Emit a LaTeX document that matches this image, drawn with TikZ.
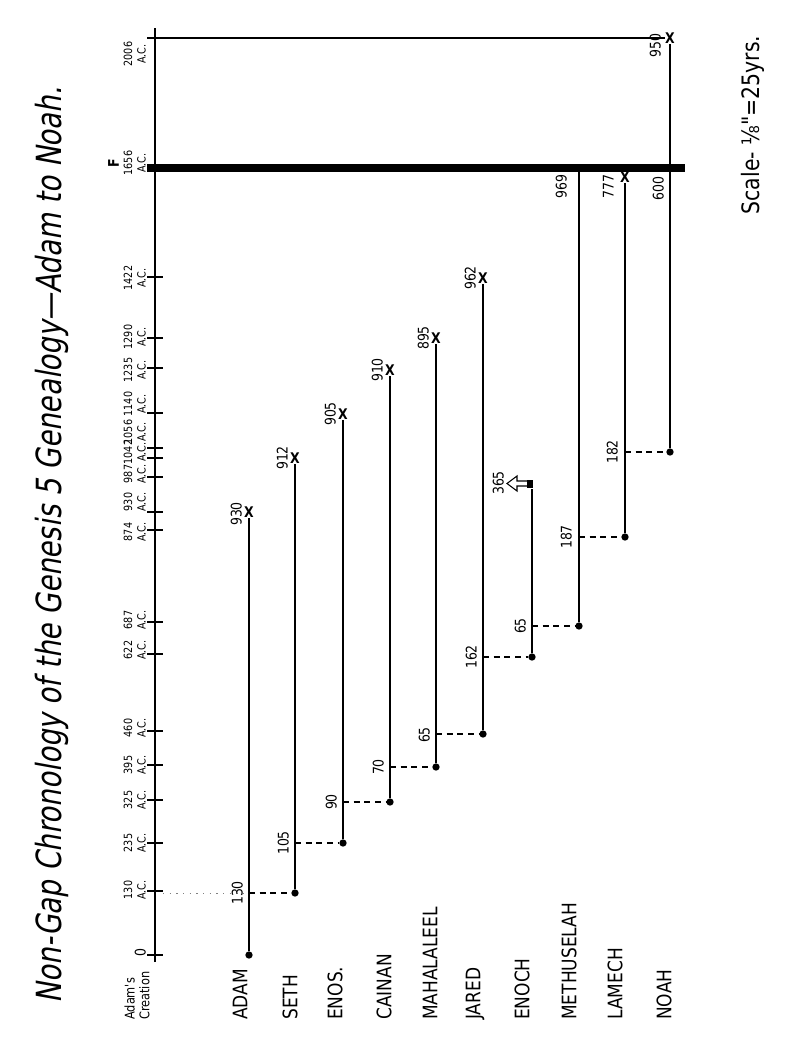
\documentclass[tikz,border=0pt]{standalone}
\usepackage{fontspec}
\newfontfamily\letterfont{DejaVu Sans}[FakeStretch=0.85]
\newfontfamily\titlefont{DejaVu Sans}[FakeStretch=0.8,FakeSlant=0.18]
\begin{document}
\begin{tikzpicture}[x=0.75pt,y=-0.75pt]
    \tikzstyle{every node}=[inner sep=0pt,font=\letterfont]
    \tikzstyle{axis}=[line width=1.9pt]
    \tikzstyle{tick}=[line width=1.4pt]
    \tikzstyle{life}=[line width=1.1pt]
    \tikzstyle{gen}=[line width=0.9pt,dash pattern=on 4.5pt off 3.5pt]
    \tikzstyle{faint}=[line width=0.6pt,gray,dash pattern=on 1pt off 4pt]
    \tikzstyle{flood}=[line width=6.5pt]
    \tikzstyle{birth}=[circle,fill,minimum size=5.5pt]
    \tikzstyle{death}=[font=\letterfont\bfseries\fontsize{11}{11}\selectfont]
    \tikzstyle{year}=[rotate=90,anchor=south,align=center,font=\letterfont\fontsize{8.5}{10}\selectfont]
    \tikzstyle{span}=[rotate=90,anchor=south,font=\letterfont\fontsize{11}{11}\selectfont]
    \tikzstyle{hang}=[rotate=90,anchor=south east,font=\letterfont\fontsize{11}{11}\selectfont]
    \tikzstyle{person}=[rotate=90,anchor=west,font=\letterfont\fontsize{15}{15}\selectfont]
    \useasboundingbox (0,0) rectangle (800,1050);
    % time axis, 0 to 2006 A.C.
    \draw[axis] (155,962) -- (155,28);
    \foreach \y in {955,891,843,800,765,731,654,622,530,512,477,458,448,413,368,338,277,38}
        \draw[tick] (147,\y) -- (163,\y);
    \foreach \t/\y in {130/890,235/843,325/800,395/765,460/728,622/650,687/620,874/532,
                       930/502,987/474,1042/452,1056/432,1140/404,1235/370,1290/337,1422/278,2006/54}
        \node[year] (y\t) at (146,\y) {\t\\A.C.};
    \node[year] (y0) at (146,953) {\fontsize{11}{11}\selectfont 0};
    \node[year] (f1656) at (146,163) {{\fontsize{11}{11}\selectfont\bfseries F}\\1656\\A.C.};
    \node[person,align=left,font=\letterfont\fontsize{10}{11}\selectfont] (creation) at (137,1020) {Adam's\\Creation};
    \coordinate (a130) at (163,893);
    \coordinate (a2006) at (155,38);
    \coordinate (floodL) at (147,168);
    \coordinate (floodR) at (685,168);
    % the patriarchs
    \node[birth] (adam) at (249,955) {};
    \node[birth] (seth) at (295,893) {};
    \node[birth] (enos) at (343,843) {};
    \node[birth] (cainan) at (390,802) {};
    \node[birth] (mahalaleel) at (436,767) {};
    \node[birth] (jared) at (483,734) {};
    \node[birth] (enoch) at (532,657) {};
    \node[birth] (methuselah) at (579,626) {};
    \node[birth] (lamech) at (625,537) {};
    \node[birth] (noah) at (670,452) {};
    \node[death] (adamX) at (249,512) {X};
    \node[death] (sethX) at (295,458) {X};
    \node[death] (enosX) at (343,414) {X};
    \node[death] (cainanX) at (390,370) {X};
    \node[death] (mahalaleelX) at (436,338) {X};
    \node[death] (jaredX) at (483,278) {X};
    \node[death] (lamechX) at (625,177) {X};
    \node[death] (noahX) at (670,38) {X};
    \coordinate (enochT) at (532,489);
    \draw[life] (adam) -- (adamX);
    \draw[life] (seth) -- (sethX);
    \draw[life] (enos) -- (enosX);
    \draw[life] (cainan) -- (cainanX);
    \draw[life] (mahalaleel) -- (mahalaleelX);
    \draw[life] (jared) -- (jaredX);
    \draw[life] (enoch) -- (enochT);
    \draw[life] (methuselah) -- (methuselah |- floodL);
    \draw[life] (lamech) -- (lamechX);
    \draw[life] (noah) -- (noahX);
    \draw[line width=0.8pt] (a2006) -- (noahX);
    % begetting, parent to son
    \draw[faint] (a130) -- (adam |- seth);
    \draw[gen] (adam |- seth) -- (seth);
    \draw[gen] (seth |- enos) -- (enos);
    \draw[gen] (enos |- cainan) -- (cainan);
    \draw[gen] (cainan |- mahalaleel) -- (mahalaleel);
    \draw[gen] (mahalaleel |- jared) -- (jared);
    \draw[gen] (jared |- enoch) -- (enoch);
    \draw[gen] (enoch |- methuselah) -- (methuselah);
    \draw[gen] (methuselah |- lamech) -- (lamech);
    \draw[gen] (lamech |- noah) -- (noah);
    \node[span] (s130) at (243,893) {130};
    \node[span] (s105) at (289,843) {105};
    \node[span] (s90) at (337,802) {90};
    \node[span] (s70) at (384,767) {70};
    \node[span] (s65) at (430,735) {65};
    \node[span] (s162) at (477,657) {162};
    \node[span] (s65b) at (526,626) {65};
    \node[span] (s187) at (572,537) {187};
    \node[span] (s182) at (618,452) {182};
    \node[span] (d930) at (242,514) {930};
    \node[span] (d912) at (288,458) {912};
    \node[span] (d905) at (336,414) {905};
    \node[span] (d910) at (383,370) {910};
    \node[span] (d895) at (429,338) {895};
    \node[span] (d962) at (476,278) {962};
    \node[span] (d365) at (504,483) {365};
    \node[hang] (d969) at (567,174) {969};
    \node[hang] (d777) at (614,174) {777};
    \node[hang] (d600) at (664,176) {600};
    \node[hang] (d950) at (661,33) {950};
    % Enoch taken up
    \draw[line width=0.8pt,fill=white] (528,481) -- (517,481) -- (517,476) -- (507,483.5)
        -- (517,491) -- (517,486) -- (528,486) -- cycle;
    \fill (527,480) rectangle (533,488);
    % the flood
    \draw[flood] (floodL) -- (floodR);
    \node[person] (nAdam) at (240,1020) {ADAM};
    \node[person] (nSeth) at (290,1020) {SETH};
    \node[person] (nEnos) at (335,1020) {ENOS.};
    \node[person] (nCainan) at (384,1020) {CAINAN};
    \node[person] (nMahalaleel) at (430,1020) {MAHALALEEL};
    \node[person] (nJared) at (475,1020) {JARED};
    \node[person] (nEnoch) at (522,1020) {ENOCH};
    \node[person] (nMethuselah) at (569,1020) {METHUSELAH};
    \node[person] (nLamech) at (615,1020) {LAMECH};
    \node[person] (nNoah) at (664,1020) {NOAH};
    \node[rotate=90,font=\titlefont\fontsize{26}{26}\selectfont] (title) at (52,545)
        {Non-Gap Chronology of the Genesis 5 Genealogy—Adam to Noah.};
    \node[rotate=90,font=\letterfont\fontsize{18}{18}\selectfont] (scale) at (753,125)
        {Scale- ⅛"=25yrs.};
\end{tikzpicture}
\end{document}
